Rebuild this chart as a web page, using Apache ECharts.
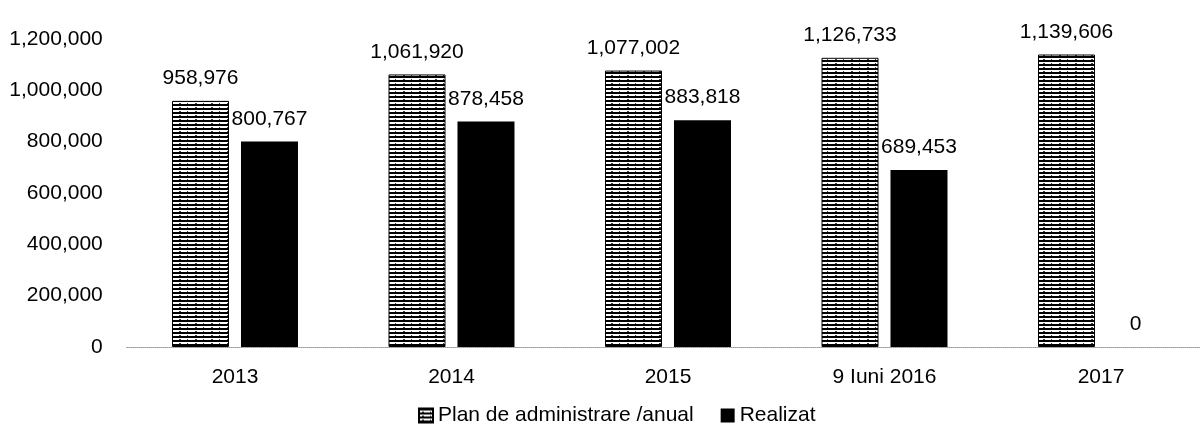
<!DOCTYPE html>
<html>
<head>
<meta charset="utf-8">
<script src="https://cdn.jsdelivr.net/npm/echarts@6/dist/echarts.min.js"></script>
<style>html,body{margin:0;padding:0;background:#fff;}#c{width:1200px;height:439px;}</style>
</head>
<body>
<div id="c"></div>
<script>
const categories = ['2013', '2014', '2015', '9 Iuni 2016', '2017'];
const planValues = [958976, 1061920, 1077002, 1126733, 1139606];
const realizatValues = [800767, 878458, 883818, 689453, 0];
const seriesNames = ['Plan de administrare /anual', 'Realizat'];
const yTicks = [0, 200000, 400000, 600000, 800000, 1000000, 1200000];

const FONT = '"Liberation Sans Narrow", "Arial Narrow", "Liberation Sans", Arial, sans-serif';

function stripePattern() {
  const c = document.createElement('canvas');
  c.width = 16; c.height = 4;
  const ctx = c.getContext('2d');
  ctx.fillStyle = '#fff';
  ctx.fillRect(0, 0, 16, 4);
  ctx.fillStyle = '#000';
  ctx.fillRect(0, 0, 16, 2);
  ctx.fillStyle = '#444';
  ctx.fillRect(3, 3, 2, 1);
  ctx.fillRect(11, 3, 1, 1);
  return c;
}
const pat = stripePattern();

const fmt = v => v.toLocaleString('en-US');

const chart = echarts.init(document.getElementById('c'), null, {renderer: 'canvas'});
chart.setOption({
  animation: false,
  backgroundColor: '#fff',
  grid: {left: 126.75, width: 1082.5, top: 39, bottom: 92, containLabel: false, outerBoundsMode: 'none'},
  legend: {
    left: 418, top: 405, padding: 0,
    icon: 'rect',
    itemWidth: 14, itemHeight: 14, itemGap: 27,
    textStyle: {fontFamily: FONT, fontSize: 21, color: '#000'},
    data: seriesNames
  },
  xAxis: {
    type: 'category',
    data: categories,
    axisLine: {lineStyle: {color: '#999', type: 'dotted', width: 1}},
    axisTick: {show: false},
    axisLabel: {fontFamily: FONT, fontSize: 21, color: '#000', margin: 20}
  },
  yAxis: {
    type: 'value',
    min: yTicks[0], max: yTicks[yTicks.length - 1], interval: yTicks[1] - yTicks[0],
    axisLine: {show: false},
    axisTick: {show: false},
    splitLine: {show: false},
    axisLabel: {fontFamily: FONT, fontSize: 21, color: '#000', margin: 24, formatter: fmt}
  },
  series: [
    {
      name: seriesNames[0], type: 'bar', data: planValues,
      barWidth: 57, barGap: '21%',
      itemStyle: {color: {image: pat, repeat: 'repeat'}, borderColor: '#000', borderWidth: 1},
      label: {show: true, position: 'top', distance: 12, fontFamily: FONT, fontSize: 21, color: '#000', formatter: p => fmt(p.value)}
    },
    {
      name: seriesNames[1], type: 'bar', data: realizatValues,
      barWidth: 57,
      itemStyle: {color: '#000'},
      label: {show: true, position: 'top', distance: 12, fontFamily: FONT, fontSize: 21, color: '#000', formatter: p => fmt(p.value)}
    }
  ]
});
</script>
</body>
</html>
